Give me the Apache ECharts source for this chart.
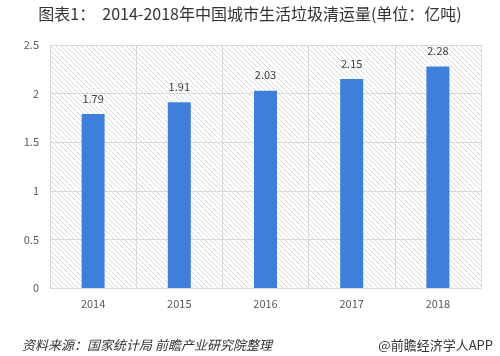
<!DOCTYPE html>
<html>
<head>
<meta charset="utf-8">
<script src="https://cdn.jsdelivr.net/npm/echarts@6/dist/echarts.min.js"></script>
<style>
html,body{margin:0;padding:0;background:#fff;}
#c{width:500px;height:356px;}
</style>
</head>
<body>
<div id="c"></div>
<script>
var categories = ['2014', '2015', '2016', '2017', '2018'];
var values = [1.79, 1.91, 2.03, 2.15, 2.28];
var yTicks = [0, 0.5, 1, 1.5, 2, 2.5];

var tile = document.createElement('canvas');
tile.width = 5; tile.height = 5;
var g = tile.getContext('2d');
g.fillStyle = '#ffffff';
g.fillRect(0, 0, 5, 5);
g.strokeStyle = '#dadada';
g.lineWidth = 1;
g.beginPath();
g.moveTo(-1, -1); g.lineTo(6, 6);
g.moveTo(-1, 4); g.lineTo(1, 6);
g.moveTo(4, -1); g.lineTo(6, 1);
g.stroke();

var chart = echarts.init(document.getElementById('c'), null, {renderer: 'canvas'});
var font = '"Noto Sans CJK SC", "Noto Sans", sans-serif';
chart.setOption({
  animation: false,
  backgroundColor: '#ffffff',
  title: {
    text: '图表1：  2014-2018年中国城市生活垃圾清运量(单位：亿吨)',
    left: 'center',
    top: 1,
    textStyle: {fontFamily: font, fontSize: 16, fontWeight: 'normal', color: '#333333'}
  },
  graphic: [
    {type: 'text', left: 22, top: 339, style: {text: '资料来源：国家统计局 前瞻产业研究院整理', font: 'italic 13px "Noto Sans CJK SC", sans-serif', fill: '#333333'}},
    {type: 'text', right: 7, top: 339, style: {text: '@前瞻经济学人APP', font: '13px "Noto Sans CJK SC", sans-serif', fill: '#333333'}}
  ],
  grid: {
    left: 50, right: 19, top: 45, bottom: 68,
    show: true,
    borderWidth: 0,
    backgroundColor: {image: tile, repeat: 'repeat'}
  },
  xAxis: {
    type: 'category',
    data: categories,
    axisLine: {show: true, lineStyle: {color: '#d9d9d9'}},
    axisTick: {show: false},
    splitLine: {show: true, lineStyle: {color: '#d9d9d9', width: 1}},
    axisLabel: {fontFamily: font, fontSize: 11, color: '#595959', margin: 10}
  },
  yAxis: {
    type: 'value',
    min: yTicks[0],
    max: yTicks[yTicks.length - 1],
    interval: 0.5,
    axisLine: {show: false},
    axisTick: {show: false},
    splitLine: {show: true, lineStyle: {color: '#d9d9d9', width: 1}},
    axisLabel: {fontFamily: font, fontSize: 11, color: '#595959', margin: 11}
  },
  series: [{
    type: 'bar',
    data: values,
    barWidth: 23,
    itemStyle: {color: '#3d7fdb'},
    label: {show: true, position: 'top', distance: 10, fontFamily: font, fontSize: 11, color: '#404040'}
  }]
});
</script>
</body>
</html>
